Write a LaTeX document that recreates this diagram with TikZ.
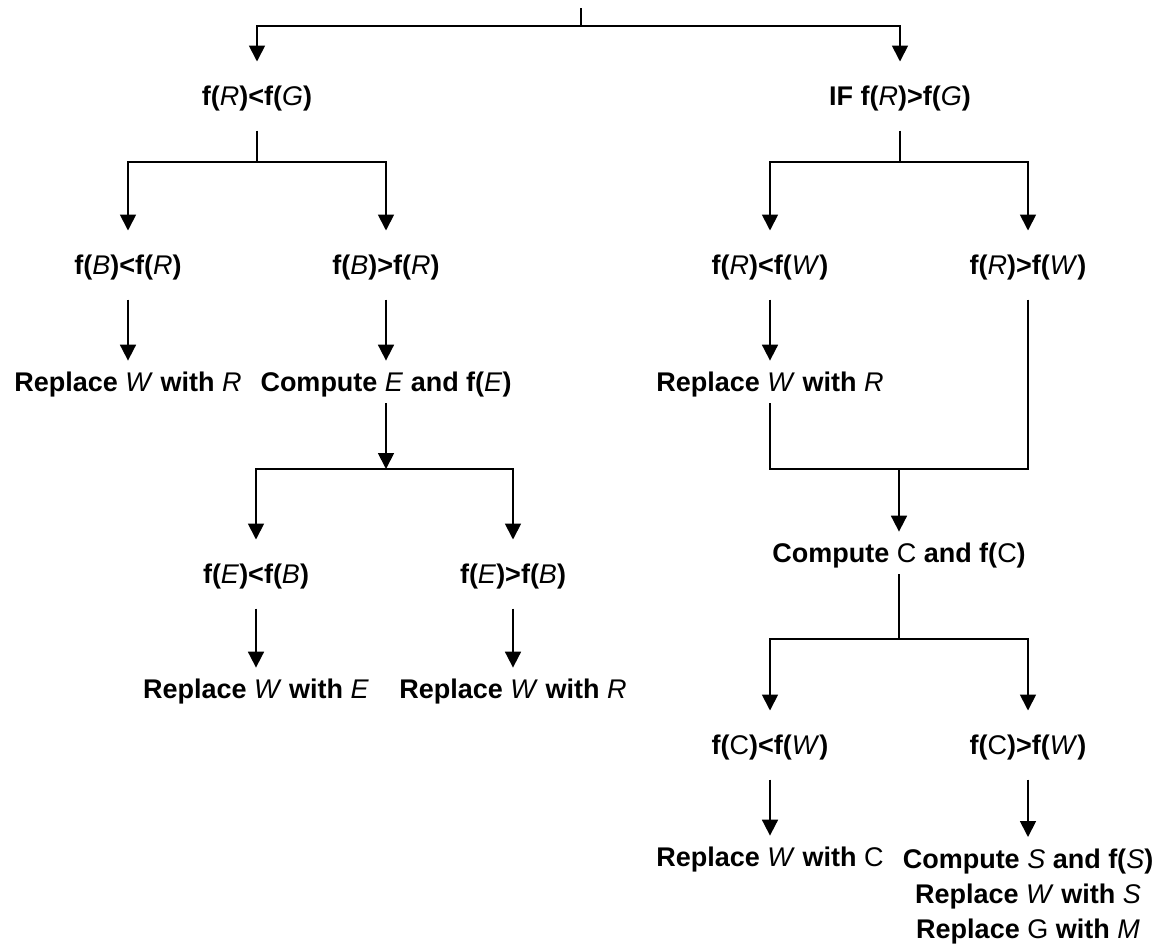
\documentclass[tikz,border=0pt]{standalone}
\usepackage{fontspec}
\setmainfont{Liberation Sans}
\usetikzlibrary{arrows.meta}
\newcommand{\mvar}[1]{{\mdseries\itshape #1\/}}

\begin{document}
\begin{tikzpicture}[x=1pt,y=-1pt,line width=1.8pt,
                    >={Triangle[length=16pt,width=16pt]},
                    font=\bfseries\fontsize{27}{35}\selectfont]
  \tikzstyle{result}=[inner sep=0pt,text height=19pt,text depth=6pt]
  \tikzstyle{test}=[result,outer ysep=14pt]
  \tikzstyle{into}=[->,shorten >=11pt]
  \tikzstyle{outof}=[shorten <=5pt]

  \useasboundingbox (0,0) rectangle (1163,946);

  % first split
  \coordinate (top) at (581,8);
  \coordinate (J0) at (581,26);
  \node[test]   (RG)  at (257,99) {f(\mvar{R})<f(\mvar{G})};
  \node[test]   (GR)  at (900,99) {IF f(\mvar{R})>f(\mvar{G})};

  % left branch
  \coordinate (J1) at (257,162);
  \node[test]   (BR)  at (128,268) {f(\mvar{B})<f(\mvar{R})};
  \node[test]   (RB)  at (386,268) {f(\mvar{B})>f(\mvar{R})};
  \node[result] (WR1) at (128,385) {Replace \mvar{W} with \mvar{R}};
  \node[result] (CE)  at (386,385) {Compute \mvar{E} and f(\mvar{E})};
  \coordinate (J2) at (386,469);
  \node[test]   (EB)  at (256,577) {f(\mvar{E})<f(\mvar{B})};
  \node[test]   (BE)  at (513,577) {f(\mvar{E})>f(\mvar{B})};
  \node[result] (WE)  at (256,692) {Replace \mvar{W} with \mvar{E}};
  \node[result] (WR2) at (513,692) {Replace \mvar{W} with \mvar{R}};

  % right branch
  \coordinate (J3) at (900,162);
  \node[test]   (RW)  at (770,268) {f(\mvar{R})<f(\mvar{W})};
  \node[test]   (WRt) at (1028,268) {f(\mvar{R})>f(\mvar{W})};
  \node[result] (WR3) at (770,385) {Replace \mvar{W} with \mvar{R}};
  \coordinate (JM) at (899,469);
  \node[result] (CC)  at (899,556) {Compute {\mdseries C} and f({\mdseries C})};
  \coordinate (J4) at (899,639);
  \node[test]   (CW)  at (770,748) {f({\mdseries C})<f(\mvar{W})};
  \node[test]   (WC)  at (1028,748) {f({\mdseries C})>f(\mvar{W})};
  \node[result] (WCr) at (770,860) {Replace \mvar{W} with {\mdseries C}};
  \node[inner sep=0pt,align=center,anchor=north] (CS) at (1028,848)
    {Compute \mvar{S} and f(\mvar{S})\\Replace \mvar{W} with \mvar{S}\\Replace {\mdseries G} with \mvar{M}};

  \draw (top) -- (J0);
  \draw[into] (J0) -| (RG);
  \draw[into] (J0) -| (GR);

  \draw[outof] (RG) -- (J1);
  \draw[into] (J1) -| (BR);
  \draw[into] (J1) -| (RB);
  \draw[into,outof] (BR) -- (WR1);
  \draw[into,outof] (RB) -- (CE);
  \draw[outof,->] (CE) -- (J2);
  \draw[into] (J2) -| (EB);
  \draw[into] (J2) -| (BE);
  \draw[into,outof] (EB) -- (WE);
  \draw[into,outof] (BE) -- (WR2);

  \draw[outof] (GR) -- (J3);
  \draw[into] (J3) -| (RW);
  \draw[into] (J3) -| (WRt);
  \draw[into,outof] (RW) -- (WR3);
  \draw[outof] (WR3) |- (JM);
  \draw[outof] (WRt) |- (JM);
  \draw[into] (JM) -- (CC);
  \draw[outof] (CC) -- (J4);
  \draw[into] (J4) -| (CW);
  \draw[into] (J4) -| (WC);
  \draw[into,outof] (CW) -- (WCr);
  \draw[into,outof] (WC) -- (CS);
\end{tikzpicture}
\end{document}
